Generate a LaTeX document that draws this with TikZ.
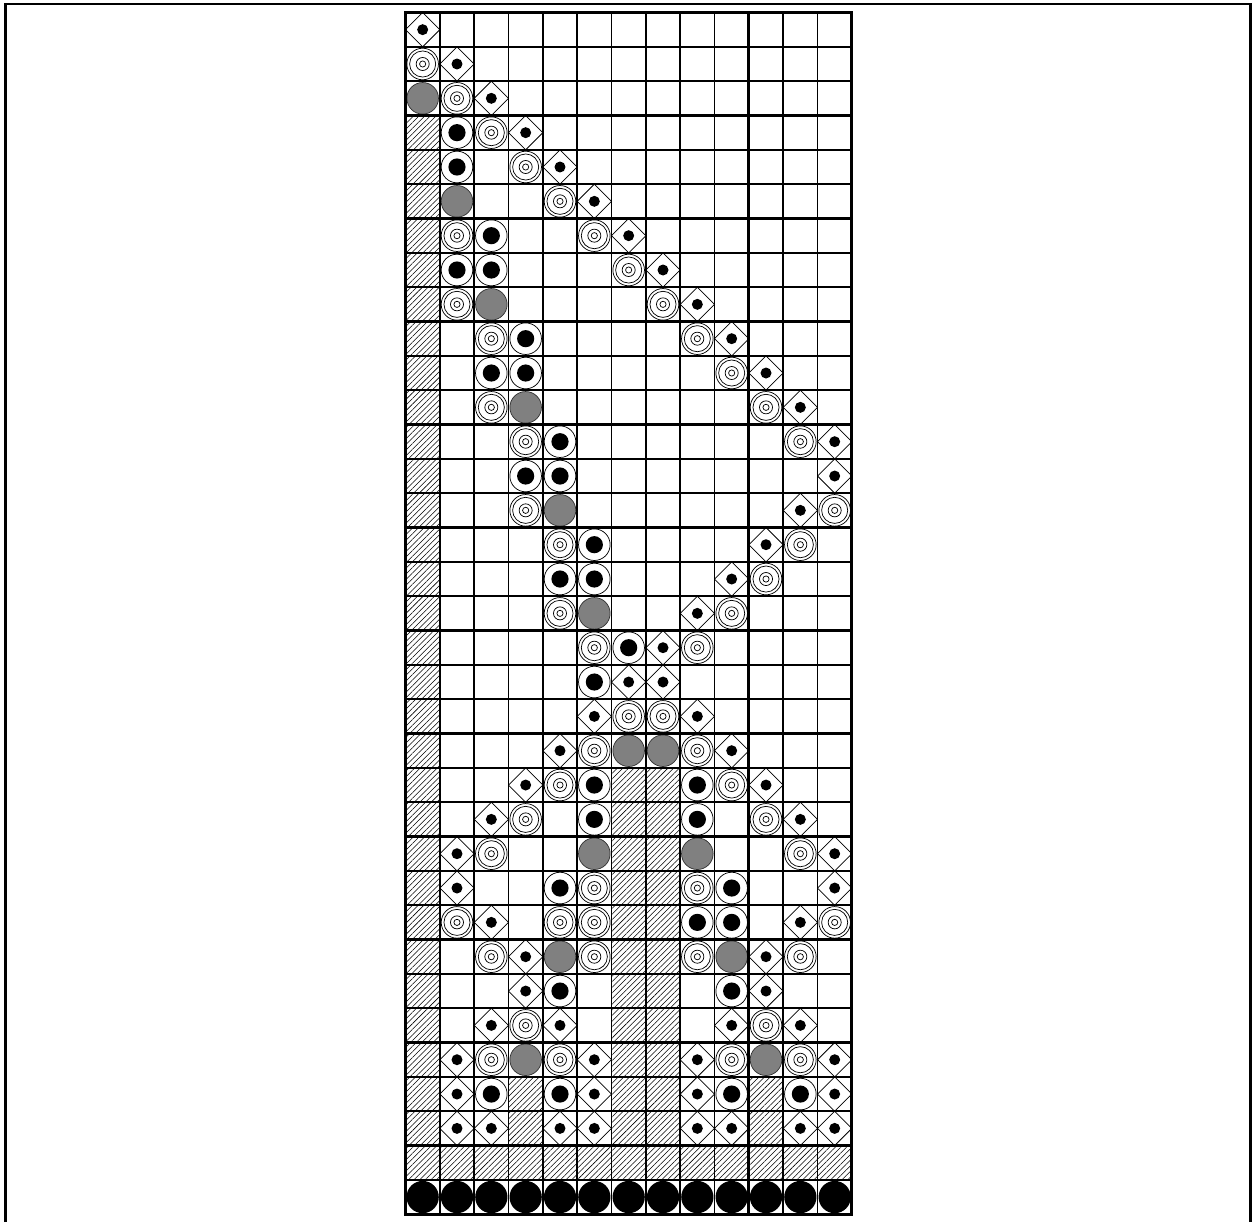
\documentclass[tikz,border=0pt]{standalone}
\usepackage{tikz}
\usetikzlibrary{patterns.meta}
\tikzset{
  gridline/.style={line width=1.6pt},
  gridthick/.style={line width=2.5pt},
  shapeline/.style={line width=0.6pt},
  hatch/.style={pattern={Lines[angle=45,distance=3.3pt,line width=0.45pt]}},
}
\def\celldia#1#2{\draw[shapeline] ({#1-0.5},{1-#2}) -- ({#1},{0.5-#2}) -- ({#1-0.5},{-#2}) -- ({#1-1},{0.5-#2}) -- cycle;
  \fill ({#1-0.5},{0.5-#2}) circle (0.16);}
\def\celltarget#1#2{\draw[shapeline] ({#1-0.5},{0.5-#2}) circle (0.46) circle (0.38) circle (0.19) circle (0.09);}
\def\cellblack#1#2{\draw[shapeline] ({#1-0.5},{0.5-#2}) circle (0.46);
  \fill ({#1-0.5},{0.5-#2}) circle (0.25);}
\def\cellgrey#1#2{\draw[shapeline,draw=black!80,fill=gray] ({#1-0.5},{0.5-#2}) circle (0.46);}
\def\cellhatch#1#2{\fill[hatch] ({#1-1},{1-#2}) rectangle ({#1},{-#2});}

\begin{document}
\begin{tikzpicture}
  \useasboundingbox (-11.81,0.364) rectangle (24.80,-35.23);
  \draw[line width=1.8pt] (-11.65,-35.23) -- (-11.65,0.248) -- (24.61,0.248) -- (24.61,-35.23);

  \foreach \r in {4,...,34} \cellhatch{1}{\r};
  \foreach \r in {23,...,33} {\cellhatch{7}{\r} \cellhatch{8}{\r}};
  \foreach \c in {2,...,13} \cellhatch{\c}{34};
  \cellhatch{4}{32} \cellhatch{4}{33} \cellhatch{11}{32} \cellhatch{11}{33}
  \foreach \c in {1,...,13} \fill ({\c-0.5},-34.5) circle (0.47);

  \celldia{1}{1}
  \celltarget{1}{2} \celldia{2}{2}
  \cellgrey{1}{3} \celltarget{2}{3} \celldia{3}{3}
  \cellblack{2}{4} \celltarget{3}{4} \celldia{4}{4}
  \cellblack{2}{5} \celltarget{4}{5} \celldia{5}{5}
  \cellgrey{2}{6} \celltarget{5}{6} \celldia{6}{6}
  \celltarget{2}{7} \cellblack{3}{7} \celltarget{6}{7} \celldia{7}{7}
  \cellblack{2}{8} \cellblack{3}{8} \celltarget{7}{8} \celldia{8}{8}
  \celltarget{2}{9} \cellgrey{3}{9} \celltarget{8}{9} \celldia{9}{9}
  \celltarget{3}{10} \cellblack{4}{10} \celltarget{9}{10} \celldia{10}{10}
  \cellblack{3}{11} \cellblack{4}{11} \celltarget{10}{11} \celldia{11}{11}
  \celltarget{3}{12} \cellgrey{4}{12} \celltarget{11}{12} \celldia{12}{12}
  \celltarget{4}{13} \cellblack{5}{13} \celltarget{12}{13} \celldia{13}{13}
  \cellblack{4}{14} \cellblack{5}{14} \celldia{13}{14}
  \celltarget{4}{15} \cellgrey{5}{15} \celldia{12}{15} \celltarget{13}{15}
  \celltarget{5}{16} \cellblack{6}{16} \celldia{11}{16} \celltarget{12}{16}
  \cellblack{5}{17} \cellblack{6}{17} \celldia{10}{17} \celltarget{11}{17}
  \celltarget{5}{18} \cellgrey{6}{18} \celldia{9}{18} \celltarget{10}{18}
  \celltarget{6}{19} \cellblack{7}{19} \celldia{8}{19} \celltarget{9}{19}
  \cellblack{6}{20} \celldia{7}{20} \celldia{8}{20}
  \celldia{6}{21} \celltarget{7}{21} \celltarget{8}{21} \celldia{9}{21}
  \celldia{5}{22} \celltarget{6}{22} \cellgrey{7}{22} \cellgrey{8}{22} \celltarget{9}{22} \celldia{10}{22}
  \celldia{4}{23} \celltarget{5}{23} \cellblack{6}{23} \cellblack{9}{23} \celltarget{10}{23} \celldia{11}{23}
  \celldia{3}{24} \celltarget{4}{24} \cellblack{6}{24} \cellblack{9}{24} \celltarget{11}{24} \celldia{12}{24}
  \celldia{2}{25} \celltarget{3}{25} \cellgrey{6}{25} \cellgrey{9}{25} \celltarget{12}{25} \celldia{13}{25}
  \celldia{2}{26} \cellblack{5}{26} \celltarget{6}{26} \celltarget{9}{26} \cellblack{10}{26} \celldia{13}{26}
  \celltarget{2}{27} \celldia{3}{27} \celltarget{5}{27} \celltarget{6}{27} \cellblack{9}{27} \cellblack{10}{27} \celldia{12}{27} \celltarget{13}{27}
  \celltarget{3}{28} \celldia{4}{28} \cellgrey{5}{28} \celltarget{6}{28} \celltarget{9}{28} \cellgrey{10}{28} \celldia{11}{28} \celltarget{12}{28}
  \celldia{4}{29} \cellblack{5}{29} \cellblack{10}{29} \celldia{11}{29}
  \celldia{3}{30} \celltarget{4}{30} \celldia{5}{30} \celldia{10}{30} \celltarget{11}{30} \celldia{12}{30}
  \celldia{2}{31} \celltarget{3}{31} \cellgrey{4}{31} \celltarget{5}{31} \celldia{6}{31} \celldia{9}{31} \celltarget{10}{31} \cellgrey{11}{31} \celltarget{12}{31} \celldia{13}{31}
  \celldia{2}{32} \cellblack{3}{32} \cellblack{5}{32} \celldia{6}{32} \celldia{9}{32} \cellblack{10}{32} \cellblack{12}{32} \celldia{13}{32}
  \celldia{2}{33} \celldia{3}{33} \celldia{5}{33} \celldia{6}{33} \celldia{9}{33} \celldia{10}{33} \celldia{12}{33} \celldia{13}{33}

  \foreach \i in {0,...,13} \draw[gridline] (\i,0) -- (\i,-35);
  \foreach \j in {0,...,35} \draw[gridline] (0,-\j) -- (13,-\j);
  \foreach \j in {0,3,...,33} \draw[gridthick] (0,-\j) -- (13,-\j);
  \draw[gridthick] (10,0) -- (10,-35);
  \draw[gridthick] (0,0) rectangle (13,-35);
\end{tikzpicture}
\end{document}
